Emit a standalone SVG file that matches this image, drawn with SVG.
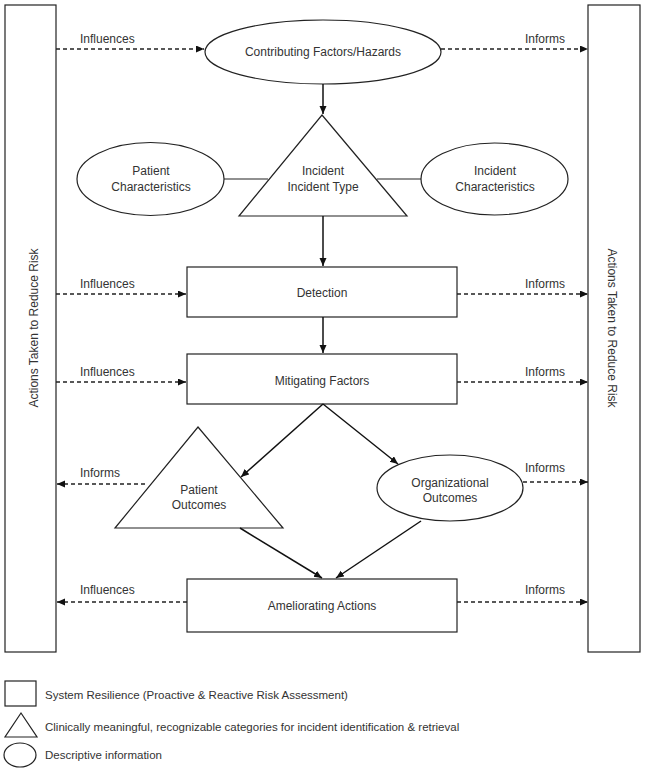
<svg xmlns="http://www.w3.org/2000/svg" width="645" height="772" viewBox="0 0 645 772">
<style>
.shape{fill:#fff;stroke:#222;stroke-width:1.2}
.t{font-family:"Liberation Sans",Arial,sans-serif;font-size:12px;fill:#333}
.c{text-anchor:middle}
.lg{font-size:11.5px}
.solid{stroke:#111;stroke-width:1.5;fill:none}
.plain{stroke:#222;stroke-width:1.2;fill:none}
.dash{stroke:#222;stroke-width:1.5;stroke-dasharray:4 3;fill:none}
</style>
<defs>
<marker id="arr" markerUnits="userSpaceOnUse" markerWidth="9" markerHeight="8" refX="8" refY="3.5" orient="auto">
<path d="M0,0 L8,3.5 L0,7 z" fill="#111"/>
</marker>
</defs>
<rect width="645" height="772" fill="#fff"/>

<g id="bar-left">
<rect class="shape" x="5" y="5" width="51" height="647"/>
<text class="t c" transform="translate(38,328) rotate(-90)">Actions Taken to Reduce Risk</text>
</g>
<g id="bar-right">
<rect class="shape" x="588" y="5" width="52" height="647"/>
<text class="t c" transform="translate(608,328) rotate(90)">Actions Taken to Reduce Risk</text>
</g>

<g id="contributing">
<ellipse class="shape" cx="323" cy="52" rx="118" ry="32"/>
<text class="t c" x="323" y="56">Contributing Factors/Hazards</text>
</g>
<g id="incident">
<polygon class="shape" points="322,115 407,216 239,216"/>
<text class="t c" x="323" y="175">Incident</text>
<text class="t c" x="323" y="191">Incident Type</text>
</g>
<g id="patient-characteristics">
<ellipse class="shape" cx="150.5" cy="179" rx="73.5" ry="36.5"/>
<text class="t c" x="151" y="175">Patient</text>
<text class="t c" x="151" y="191">Characteristics</text>
</g>
<g id="incident-characteristics">
<ellipse class="shape" cx="494.5" cy="179" rx="73.5" ry="36"/>
<text class="t c" x="495" y="175">Incident</text>
<text class="t c" x="495" y="191">Characteristics</text>
</g>
<g id="detection">
<rect class="shape" x="187" y="267" width="270" height="50"/>
<text class="t c" x="322" y="297">Detection</text>
</g>
<g id="mitigating">
<rect class="shape" x="187" y="354" width="270" height="50"/>
<text class="t c" x="322" y="385">Mitigating Factors</text>
</g>
<g id="patient-outcomes">
<polygon class="shape" points="198,427 283,528 115,528"/>
<text class="t c" x="199" y="494">Patient</text>
<text class="t c" x="199" y="509">Outcomes</text>
</g>
<g id="organizational-outcomes">
<ellipse class="shape" cx="450" cy="488" rx="73" ry="33"/>
<text class="t c" x="450" y="487">Organizational</text>
<text class="t c" x="450" y="502">Outcomes</text>
</g>
<g id="ameliorating">
<rect class="shape" x="187" y="579" width="270" height="53"/>
<text class="t c" x="322" y="610">Ameliorating Actions</text>
</g>

<g id="connectors">
<line class="solid" x1="323" y1="84" x2="323" y2="114" marker-end="url(#arr)"/>
<line class="solid" x1="323" y1="216" x2="323" y2="266" marker-end="url(#arr)"/>
<line class="solid" x1="323" y1="317" x2="323" y2="353" marker-end="url(#arr)"/>
<line class="solid" x1="323" y1="404" x2="241" y2="477" marker-end="url(#arr)"/>
<line class="solid" x1="323" y1="404" x2="398" y2="464" marker-end="url(#arr)"/>
<line class="solid" x1="240" y1="528" x2="322" y2="578" marker-end="url(#arr)"/>
<line class="solid" x1="421" y1="521" x2="336" y2="578" marker-end="url(#arr)"/>
<line class="plain" x1="224" y1="179" x2="268" y2="179"/>
<line class="plain" x1="377" y1="179" x2="421" y2="179"/>

<line class="dash" x1="56" y1="49" x2="204" y2="49" marker-end="url(#arr)"/>
<line class="dash" x1="441" y1="49" x2="588" y2="49" marker-end="url(#arr)"/>
<line class="dash" x1="56" y1="294" x2="186" y2="294" marker-end="url(#arr)"/>
<line class="dash" x1="457" y1="294" x2="588" y2="294" marker-end="url(#arr)"/>
<line class="dash" x1="56" y1="382" x2="186" y2="382" marker-end="url(#arr)"/>
<line class="dash" x1="457" y1="382" x2="588" y2="382" marker-end="url(#arr)"/>
<line class="dash" x1="145" y1="484" x2="57" y2="484" marker-end="url(#arr)"/>
<line class="dash" x1="523" y1="482" x2="588" y2="482" marker-end="url(#arr)"/>
<line class="dash" x1="187" y1="602" x2="57" y2="602" marker-end="url(#arr)"/>
<line class="dash" x1="457" y1="602" x2="588" y2="602" marker-end="url(#arr)"/>

<text class="t" x="80" y="43">Influences</text>
<text class="t" x="525" y="43">Informs</text>
<text class="t" x="80" y="288">Influences</text>
<text class="t" x="525" y="288">Informs</text>
<text class="t" x="80" y="376">Influences</text>
<text class="t" x="525" y="376">Informs</text>
<text class="t" x="80" y="477">Informs</text>
<text class="t" x="525" y="472">Informs</text>
<text class="t" x="80" y="594">Influences</text>
<text class="t" x="525" y="594">Informs</text>
</g>

<g id="legend">
<rect class="shape" x="5" y="681" width="31" height="25"/>
<text class="t lg" x="45" y="699">System Resilience (Proactive &amp; Reactive Risk Assessment)</text>
<polygon class="shape" points="21,713 37,737 5,737"/>
<text class="t lg" x="45" y="731">Clinically meaningful, recognizable categories for incident identification &amp; retrieval</text>
<ellipse class="shape" cx="20" cy="755" rx="16" ry="12"/>
<text class="t lg" x="45" y="759">Descriptive information</text>
</g>
</svg>
